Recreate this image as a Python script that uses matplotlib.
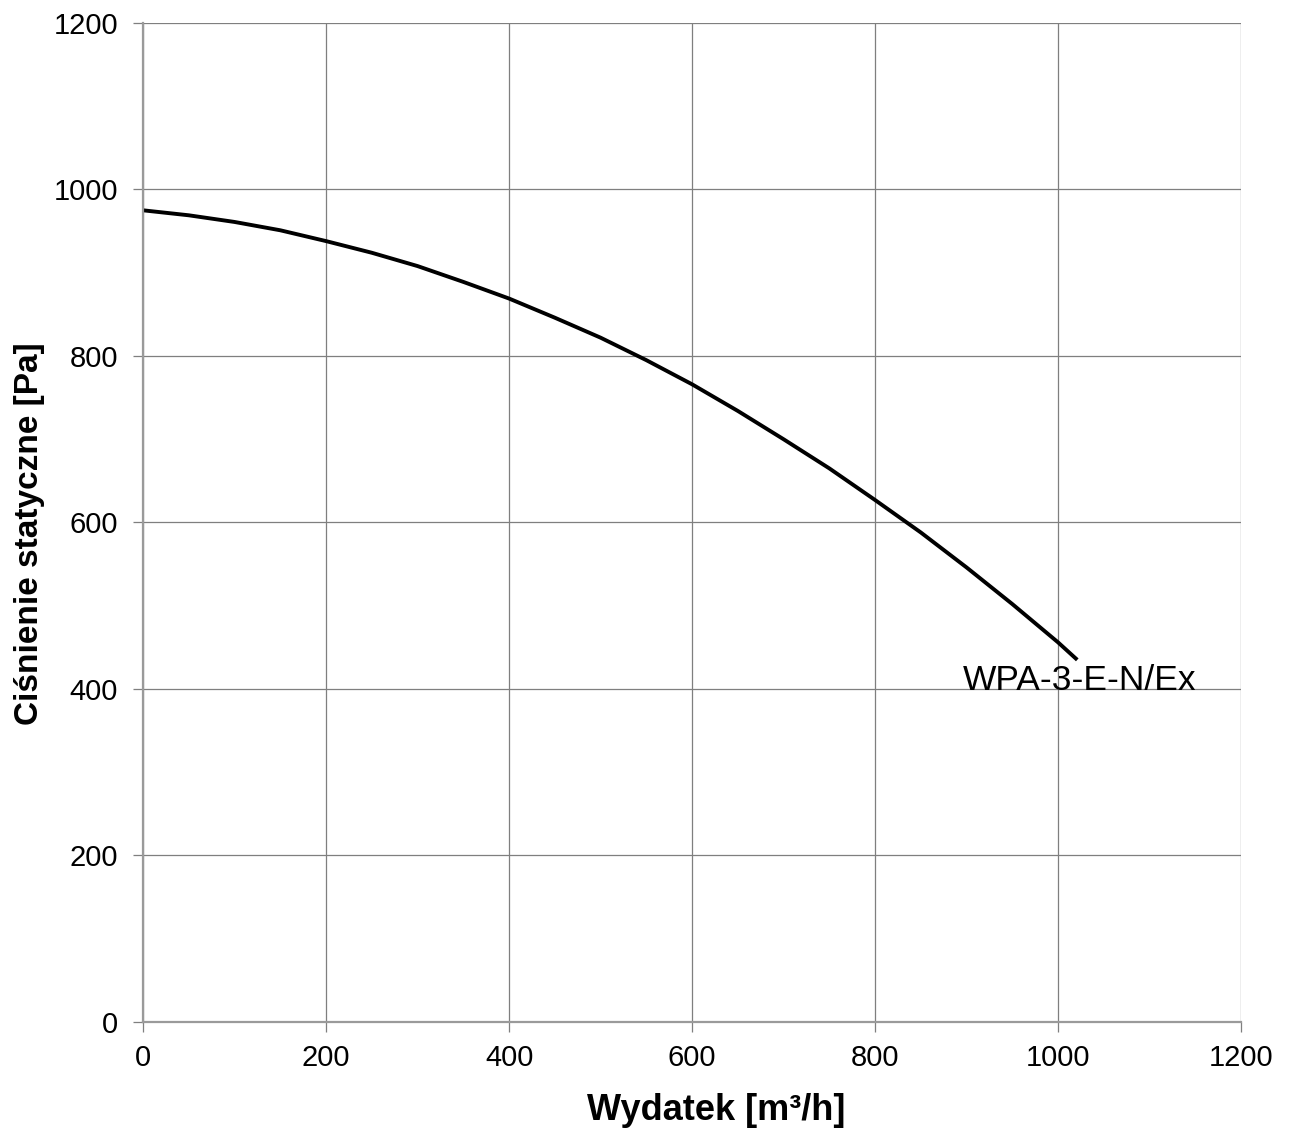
import numpy as np
import matplotlib.pyplot as plt

plt.rcParams['font.family'] = ['Liberation Sans', 'DejaVu Sans']

# flow [m3/h] vs static pressure [Pa]
flow = [0, 50, 100, 150, 200, 250, 300, 350, 400, 450, 500, 550, 600,
        650, 700, 750, 800, 850, 900, 950, 1000, 1021]
pressure = [975, 969, 961, 951, 938, 924, 908, 889, 869, 846, 822, 795,
            766, 734, 700, 665, 627, 588, 546, 502, 456, 435]
curve_label = 'WPA-3-E-N/Ex'

ticks = np.arange(0, 1201, 200)

fig = plt.figure(figsize=(12.89, 11.33), dpi=100)
ax = fig.add_axes([0.111, 0.098, 0.8518, 0.8817])

ax.plot(flow, pressure, color='black', lw=2.8, solid_capstyle='butt',
        solid_joinstyle='round')
ax.text(896, 399, curve_label, fontsize=25.5, color='black',
        ha='left', va='baseline')

ax.set_xlim(0, 1200)
ax.set_ylim(0, 1200)
ax.set_xticks(ticks)
ax.set_yticks(ticks)
ax.grid(True, color='#7f7f7f', lw=0.9)
ax.set_axisbelow(True)

for side in ['top', 'right']:
    ax.spines[side].set_visible(False)
for side in ['left', 'bottom']:
    ax.spines[side].set_color('#9a9a9a')
    ax.spines[side].set_linewidth(1.6)

ax.tick_params(direction='out', length=7, width=0.9, color='#7f7f7f',
               labelsize=21)
ax.tick_params(axis='y', pad=11)
ax.tick_params(axis='x', pad=9)

ax.set_xlabel('Wydatek [m³/h]', fontsize=26, fontweight='bold')
ax.set_ylabel('Ciśnienie statyczne [Pa]', fontsize=24, fontweight='bold')
ax.xaxis.set_label_coords(0.522, -0.071)
ax.yaxis.set_label_coords(-0.089, 0.4885)

fig.savefig('out.png', dpi=100)
